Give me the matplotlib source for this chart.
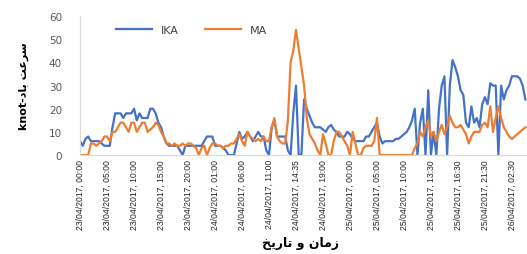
import matplotlib
matplotlib.use("Agg")
import matplotlib.pyplot as plt

# wind speed (knot) per time step
ika = [6, 4, 7, 8, 6, 6, 6, 6, 5, 4, 4, 4, 12, 18, 18, 18, 16, 18, 18, 18,
       20, 15, 18, 16, 16, 16, 20, 20, 18, 14, 12, 8, 5, 4, 4, 4, 4, 2, 0, 4,
       4, 4, 4, 4, 4, 4, 6, 8, 8, 8, 4, 4, 4, 3, 2, 0, 0, 0, 5, 10,
       7, 8, 10, 8, 6, 8, 10, 8, 8, 2, 0, 12, 15, 8, 8, 8, 8, 2, 0, 18,
       30, 0, 0, 24, 20, 17, 14, 12, 12, 12, 11, 10, 12, 13, 11, 10, 8, 8, 8, 10,
       9, 7, 6, 6, 6, 6, 8, 8, 10, 12, 14, 8, 5, 6, 6, 6, 6, 7, 7, 8,
       9, 10, 12, 15, 20, 0, 14, 20, 0, 28, 0, 10, 0, 20, 30, 34, 0, 30, 41, 38,
       34, 28, 26, 14, 12, 21, 14, 16, 12, 22, 25, 22, 31, 30, 30, 0, 30, 24, 28, 30,
       34, 34, 34, 33, 30, 24]
ma = [0, 0, 0, 0, 5, 5, 4, 5, 6, 8, 8, 6, 10, 10, 12, 14, 14, 12, 10, 14,
      14, 10, 12, 14, 14, 10, 11, 12, 14, 13, 10, 8, 5, 5, 4, 5, 4, 4, 5, 4,
      5, 5, 4, 3, 0, 3, 4, 0, 3, 5, 5, 4, 4, 3, 4, 4, 5, 5, 7, 9,
      6, 4, 10, 8, 7, 6, 7, 6, 8, 6, 6, 12, 16, 8, 6, 5, 5, 15, 40, 45,
      54, 46, 38, 30, 16, 9, 7, 5, 2, 0, 9, 5, 0, 0, 6, 10, 10, 8, 6, 4,
      0, 10, 5, 0, 0, 3, 4, 4, 4, 6, 16, 0, 0, 0, 0, 0, 0, 0, 0, 0,
      0, 0, 0, 0, 3, 5, 10, 8, 12, 15, 8, 10, 6, 10, 13, 9, 12, 17, 14, 12,
      12, 13, 11, 9, 5, 8, 10, 10, 10, 13, 14, 12, 21, 10, 16, 21, 16, 12, 10, 8,
      7, 8, 9, 10, 11, 12]

tick_pos = [0, 10, 20, 30, 40, 50, 60, 70, 80, 90, 100, 110, 120, 130, 140, 150, 160]
tick_labels = ["23/04/2017, 00:00", "23/04/2017, 05:00", "23/04/2017, 10:00",
               "23/04/2017, 15:00", "23/04/2017, 20:00", "24/04/2017, 01:00",
               "24/04/2017, 06:00", "24/04/2017, 11:00", "24/04/2017, 14:35",
               "24/04/2017, 19:00", "25/04/2017, 00:00", "25/04/2017, 05:00",
               "25/04/2017, 10:00", "25/04/2017, 13:30", "25/04/2017, 16:30",
               "25/04/2017, 21:30", "26/04/2017, 02:30"]

fig = plt.figure(figsize=(5.27, 2.55), dpi=100)
ax = fig.add_axes([0.152, 0.388, 0.848, 0.545])

x = list(range(len(ika)))
ax.plot(x, ika, color='#4472C4', lw=1.6, label='IKA')
ax.plot(x, ma, color='#ED7D31', lw=1.6, label='MA')

ax.set_xlim(0, 165.6)
ax.set_ylim(0, 60)
ax.set_yticks(range(0, 61, 10))
ax.set_xticks(tick_pos)
ax.set_xticklabels(tick_labels, rotation=90, fontsize=6.2,
                   family='Liberation Sans', fontstretch='condensed', color='#262626')
ax.tick_params(axis='y', labelsize=7.5, labelcolor='#595959', length=0, pad=13)
ax.tick_params(axis='x', length=0, pad=3)

for s in ['top', 'right']:
    ax.spines[s].set_visible(False)
ax.spines['left'].set_color('#D9D9D9')
ax.spines['bottom'].set_color('#D9D9D9')

# presentation forms so the Persian text is drawn joined and right-to-left
ax.set_ylabel('knot-ﺩﺎﺑ ﺖﻋﺮﺳ', fontsize=8, fontweight='bold', labelpad=14)
fig.text(0.57, 0.045, 'ﺦﻳﺭﺎﺗ ﻭ ﻥﺎﻣﺯ', ha='center', va='center', fontsize=9, fontweight='bold')

ax.legend(loc='center', bbox_to_anchor=(0.25, 0.9), ncol=2, frameon=False,
          fontsize=8, handlelength=3.2, columnspacing=2.4, labelcolor='#404040')

fig.savefig('out.png', dpi=100)
